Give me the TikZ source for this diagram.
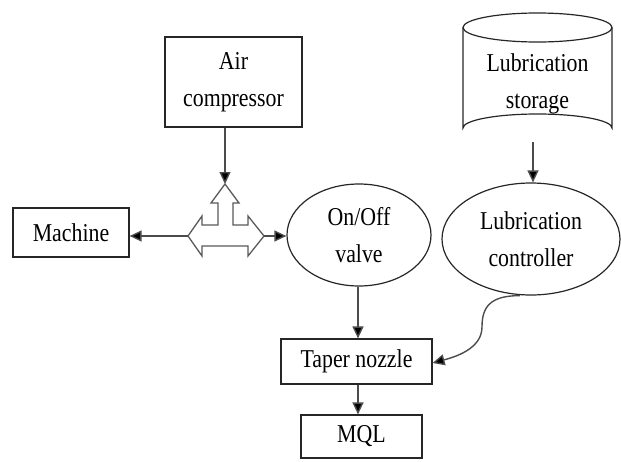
\documentclass[tikz,border=0pt]{standalone}
\usepackage{fontspec}
\setmainfont{Liberation Serif}[FakeStretch=0.85]
\usetikzlibrary{arrows.meta,shapes.geometric}
\begin{document}
\begin{tikzpicture}[x=1pt,y=-1pt,
  every node/.style={font=\fontsize{25.7}{37}\selectfont, align=center, inner sep=0pt},
  box/.style={draw=black!85, line width=1.2pt, rectangle, fill=white},
  oval/.style={draw=black!85, line width=1.2pt, ellipse},
  link/.style={draw=black!70, line width=1.4pt, -{Triangle[length=12pt,width=11pt,fill=black]}},
  tee/.style={draw=black!65, line width=1.3pt, fill=white, line join=miter}]
\useasboundingbox (0,0) rectangle (621,461);

% process blocks
\node[box, minimum width=137, minimum height=90] (air) at (233.5,82) {Air\\compressor};
\node[box, minimum width=116, minimum height=49] (machine) at (71,232.5) {Machine};
\node[oval, minimum width=144, minimum height=102] (valve) at (359,235) {On/Off\\valve};
\node[oval, minimum width=178, minimum height=112] (ctrl) at (531,239) {Lubrication\\controller};
\node[box, minimum width=151, minimum height=45] (nozzle) at (356.5,361.5) {Taper nozzle};
\node[box, minimum width=121, minimum height=43] (mql) at (361.5,436.5) {MQL};

% lubrication storage tank
\draw[draw=black!85, line width=1.2pt]
  (463,27.5) -- (463,128)
  arc[start angle=180, end angle=360, x radius=74.5, y radius=14]
  -- (612,27.5);
\draw[draw=black!85, line width=1.2pt] (537.5,27.5) ellipse[x radius=74.5, y radius=14.5];
\node (store) at (537.5,84) {Lubrication\\storage};
\coordinate (storebot) at (533,142);

% three-way air splitter
\coordinate (jt) at (225,184);
\coordinate (jl) at (188,236);
\coordinate (jr) at (264,236);
\draw[tee] (jt) -- (239,203) -- (233,203) -- (233,225) -- (248,225) -- (248,216)
  -- (jr) -- (248,256) -- (248,246) -- (202,246) -- (202,256) -- (jl)
  -- (202,216) -- (202,225) -- (218,225) -- (218,203) -- (211,203) -- cycle;

% connectors
\draw[link] (air.south -| jt) -- (jt);
\draw[link] (jl) -- (jl -| machine.east);
\draw[link] (jr) -- (jr -| valve.west);
\draw[link] (storebot) -- (storebot |- ctrl.north);
\draw[link] ([xshift=-1pt]valve.south) -- ([xshift=-1pt]valve.south |- nozzle.north);
\draw[link] ([xshift=1.5pt]nozzle.south) -- ([xshift=1.5pt]nozzle.south |- mql.north);
\coordinate (bend) at (482,327);
\draw[link] ([xshift=-11pt]ctrl.south) .. controls +(-30,0) and +(0,-20) .. (bend)
  .. controls +(0,22) and +(22,-6) .. ([yshift=-1.5pt]nozzle.east);
\end{tikzpicture}
\end{document}
